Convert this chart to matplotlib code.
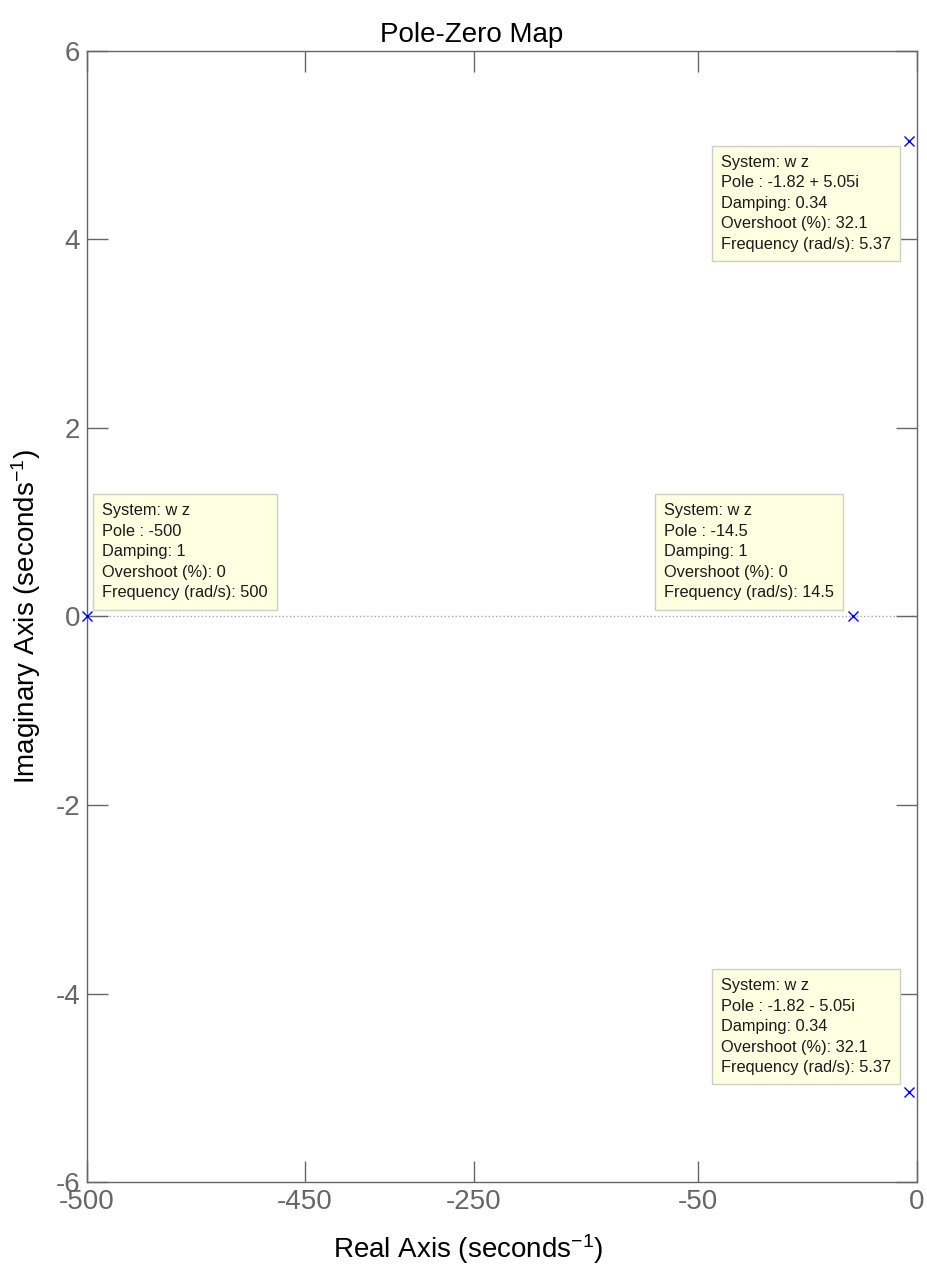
import numpy as np
import matplotlib
matplotlib.use('Agg')
import matplotlib.pyplot as plt

plt.rcParams['font.family'] = ['Liberation Sans', 'DejaVu Sans']
plt.rcParams['axes.unicode_minus'] = False
plt.rcParams['mathtext.fontset'] = 'custom'
plt.rcParams['mathtext.rm'] = 'Liberation Sans'
plt.rcParams['mathtext.default'] = 'regular'

# poles of wz and their datatip values
pole_re = [-500, -14.5, -1.82, -1.82]
pole_im = [0, 0, 5.05, -5.05]
damping = [1, 1, 0.34, 0.34]
overshoot = [0, 0, 32.1, 32.1]
frequency = [500, 14.5, 5.37, 5.37]

xtick_vals = [-500, -450, -250, -50, 0]
ytick_vals = [-6, -4, -2, 0, 2, 4, 6]

# real axis is stretched piecewise between the tick values
x_stops = [0.0, 0.2627, 0.4663, 0.7361, 1.0]


def fwd(x):
    return np.interp(x, xtick_vals, x_stops)


def inv(u):
    return np.interp(u, x_stops, xtick_vals)


def pole_str(re, im):
    if im == 0:
        return f"{re:g}"
    sign = "+" if im > 0 else "-"
    return f"{re:g} {sign} {abs(im):g}i"


gray = '#666666'

fig = plt.figure(figsize=(9.28, 12.65), dpi=100)
ax = fig.add_axes([0.09375, 0.0656, 0.8944, 0.8941])
ax.set_xscale('function', functions=(fwd, inv))
ax.set_xlim(-500, 0)
ax.set_ylim(-6, 6)

ax.axhline(0, color='#a8a8a8', ls=':', lw=1, zorder=0)
ax.plot(pole_re, pole_im, 'x', color='blue', ms=7, mew=1, clip_on=False, zorder=5)

# datatip boxes: (dx, dy) in pixels from the pole, text anchor
tip_place = [(15, 16, 'left', 'bottom'),
             (-19, 16, 'right', 'bottom'),
             (-18, -14, 'right', 'top'),
             (-18, 17, 'right', 'bottom')]
for i in range(len(pole_re)):
    txt = (f"System: w z\nPole : {pole_str(pole_re[i], pole_im[i])}\n"
           f"Damping: {damping[i]:g}\nOvershoot (%): {overshoot[i]:g}\n"
           f"Frequency (rad/s): {frequency[i]:g}")
    dx, dy, ha, va = tip_place[i]
    ax.annotate(txt, xy=(pole_re[i], pole_im[i]), xytext=(dx, dy),
                textcoords='offset pixels', ha=ha, va=va, multialignment='left',
                fontsize=11.8, color='#1a1a1a', linespacing=1.47, zorder=6,
                bbox=dict(boxstyle='square,pad=0.55', fc='#ffffe1', ec='#cfcfc4', lw=1))

ax.set_xticks(xtick_vals)
ax.set_xticklabels([f"{v:g}" for v in xtick_vals])
ax.set_yticks(ytick_vals)
ax.set_yticklabels([f"{v:g}" for v in ytick_vals])
ax.tick_params(direction='in', length=15, width=1, colors=gray, labelsize=20,
               top=True, right=True, pad=5)
for sp in ax.spines.values():
    sp.set_color(gray)
    sp.set_linewidth(1)

ax.set_title('Pole-Zero Map', fontsize=20, x=0.464, pad=6.5)
ax.set_xlabel('Real Axis (seconds$^{-1}$)', fontsize=20)
ax.xaxis.set_label_coords(0.459, -0.0445)
ax.set_ylabel('Imaginary Axis (seconds$^{-1}$)', fontsize=20)
ax.yaxis.set_label_coords(-0.053, 0.5)

fig.savefig('out.png', dpi=100)
